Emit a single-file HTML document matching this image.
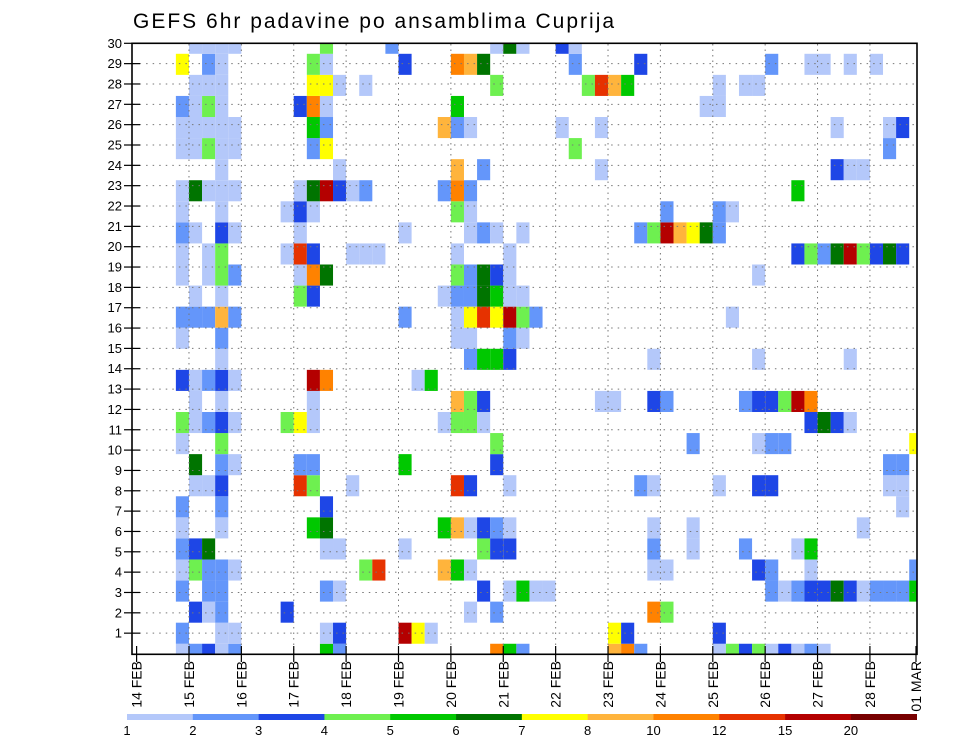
<!DOCTYPE html>
<html><head><meta charset="utf-8"><style>
html,body{margin:0;padding:0;background:#fff;}
svg{display:block;font-family:"Liberation Sans",sans-serif;}
</style></head><body>
<svg id="chart" width="960" height="742" viewBox="0 0 960 742" xmlns="http://www.w3.org/2000/svg">
<defs><clipPath id="plotclip"><rect x="132" y="43.3" width="785" height="611"/></clipPath></defs>
<text x="133" y="28" font-size="21" fill="#000" letter-spacing="2">GEFS 6hr padavine po ansamblima Cuprija</text>
<g id="cells" clip-path="url(#plotclip)"></g>
<g id="grid"></g>
<rect x="132" y="43.3" width="785" height="611" fill="none" stroke="#000" stroke-width="1.6"/>
<g id="yaxis"></g>
<g id="xaxis"></g>
<g id="legend"></g>
</svg>
<script>
const dayLabels = ["14 FEB","15 FEB","16 FEB","17 FEB","18 FEB","19 FEB","20 FEB","21 FEB","22 FEB","23 FEB","24 FEB","25 FEB","26 FEB","27 FEB","28 FEB","01 MAR"];
const memberLabels = [1,2,3,4,5,6,7,8,9,10,11,12,13,14,15,16,17,18,19,20,21,22,23,24,25,26,27,28,29,30];
const levelBounds = [1,2,3,4,5,6,7,8,10,12,15,20];
const levelColors = ["#b4c8fa","#6496fa","#1e46e6","#6ef050","#00c800","#007400","#ffff00","#ffb43c","#ff8200","#e63200","#b40000","#780000"];
// precipitation values per ensemble band (index 0 = bottom), pairs [6h step index, mm]
const precip = [
 [[3,1.5],[4,2.5],[5,3.5],[6,1.5],[7,2.5],[14,5.5],[15,2.5],[27,11],[28,5.5],[29,2.5],[36,9],[37,11],[38,2.5],[44,1.5],[45,4.5],[46,3.5],[47,4.5],[48,1.5],[49,3.5],[50,1.5],[51,2.5],[52,1.5]],
 [[3,2.5],[6,1.5],[7,1.5],[14,1.5],[15,3.5],[20,17.5],[21,7.5],[22,1.5],[36,7.5],[37,3.5],[44,3.5]],
 [[4,3.5],[5,1.5],[6,2.5],[11,3.5],[25,1.5],[27,2.5],[39,11],[40,4.5]],
 [[3,2.5],[5,2.5],[6,2.5],[14,2.5],[15,1.5],[26,3.5],[28,1.5],[29,5.5],[30,1.5],[31,1.5],[48,2.5],[49,1.5],[50,2.5],[51,3.5],[52,3.5],[53,6.5],[54,3.5],[55,1.5],[56,2.5],[57,2.5],[58,2.5],[59,5.5]],
 [[3,1.5],[4,4.5],[5,2.5],[6,2.5],[7,1.5],[17,4.5],[18,13.5],[23,9],[24,5.5],[25,1.5],[39,1.5],[40,1.5],[47,3.5],[48,2.5],[51,1.5],[59,2.5]],
 [[3,2.5],[4,3.5],[5,6.5],[14,1.5],[15,1.5],[20,1.5],[26,4.5],[27,3.5],[28,3.5],[39,2.5],[42,1.5],[46,2.5],[50,1.5],[51,5.5]],
 [[3,1.5],[6,1.5],[13,5.5],[14,6.5],[23,5.5],[24,9],[25,1.5],[26,3.5],[27,2.5],[28,1.5],[39,1.5],[42,1.5],[55,1.5]],
 [[3,2.5],[6,2.5],[14,3.5],[58,1.5]],
 [[4,1.5],[5,1.5],[6,3.5],[12,13.5],[13,4.5],[16,1.5],[24,13.5],[25,3.5],[28,1.5],[38,2.5],[39,1.5],[44,1.5],[47,3.5],[48,3.5],[57,1.5],[58,1.5]],
 [[4,6.5],[6,2.5],[7,1.5],[12,2.5],[13,2.5],[20,5.5],[27,3.5],[57,2.5],[58,2.5]],
 [[3,1.5],[6,4.5],[27,4.5],[42,2.5],[47,1.5],[48,2.5],[49,2.5],[59,7.5]],
 [[3,4.5],[4,1.5],[5,2.5],[6,3.5],[7,1.5],[11,4.5],[12,7.5],[13,1.5],[23,1.5],[24,4.5],[25,4.5],[26,1.5],[51,3.5],[52,6.5],[53,3.5],[54,1.5]],
 [[4,1.5],[6,1.5],[13,1.5],[24,9],[25,4.5],[26,3.5],[35,1.5],[36,1.5],[39,3.5],[40,2.5],[46,2.5],[47,3.5],[48,3.5],[49,4.5],[50,17.5],[51,11]],
 [[3,3.5],[4,1.5],[5,2.5],[6,3.5],[7,1.5],[13,17.5],[14,11],[21,1.5],[22,5.5]],
 [[6,1.5],[25,2.5],[26,5.5],[27,5.5],[28,3.5],[39,1.5],[47,1.5],[54,1.5]],
 [[3,1.5],[6,2.5],[24,1.5],[25,1.5],[28,2.5],[29,1.5]],
 [[3,2.5],[4,2.5],[5,2.5],[6,9],[7,2.5],[20,2.5],[24,1.5],[25,7.5],[26,13.5],[27,7.5],[28,17.5],[29,4.5],[30,2.5],[45,1.5]],
 [[4,1.5],[6,1.5],[12,4.5],[13,3.5],[23,1.5],[24,2.5],[25,2.5],[26,6.5],[27,5.5],[28,1.5],[29,1.5]],
 [[3,1.5],[5,1.5],[6,4.5],[7,2.5],[12,1.5],[13,11],[14,6.5],[24,4.5],[25,2.5],[26,6.5],[27,3.5],[28,1.5],[47,1.5]],
 [[3,1.5],[5,1.5],[6,4.5],[11,1.5],[12,13.5],[13,3.5],[16,1.5],[17,1.5],[18,1.5],[24,1.5],[28,1.5],[50,3.5],[51,4.5],[52,2.5],[53,6.5],[54,17.5],[55,4.5],[56,3.5],[57,6.5],[58,3.5]],
 [[3,2.5],[4,1.5],[6,3.5],[7,1.5],[12,1.5],[20,1.5],[25,1.5],[26,2.5],[27,1.5],[29,1.5],[38,2.5],[39,4.5],[40,17.5],[41,9],[42,7.5],[43,6.5],[44,2.5]],
 [[3,1.5],[6,1.5],[11,1.5],[12,3.5],[13,1.5],[24,4.5],[25,1.5],[40,2.5],[44,2.5],[45,1.5]],
 [[3,1.5],[4,6.5],[5,1.5],[6,1.5],[7,1.5],[12,1.5],[13,6.5],[14,17.5],[15,3.5],[16,1.5],[17,2.5],[23,2.5],[24,11],[25,2.5],[50,5.5]],
 [[6,1.5],[15,1.5],[24,9],[26,2.5],[35,1.5],[53,3.5],[54,1.5],[55,1.5]],
 [[3,1.5],[4,1.5],[5,4.5],[6,1.5],[7,1.5],[13,2.5],[14,7.5],[33,4.5],[57,2.5]],
 [[3,1.5],[4,1.5],[5,1.5],[6,1.5],[7,1.5],[13,5.5],[14,2.5],[23,9],[24,2.5],[25,1.5],[32,1.5],[35,1.5],[53,1.5],[57,1.5],[58,3.5]],
 [[3,2.5],[4,1.5],[5,4.5],[6,1.5],[12,3.5],[13,11],[14,1.5],[24,5.5],[43,1.5],[44,1.5]],
 [[4,1.5],[5,1.5],[6,1.5],[13,7.5],[14,7.5],[15,1.5],[17,1.5],[27,4.5],[34,4.5],[35,13.5],[36,9],[37,5.5],[44,1.5],[46,1.5],[47,1.5]],
 [[3,7.5],[5,2.5],[6,1.5],[13,4.5],[14,1.5],[20,3.5],[24,11],[25,9],[26,6.5],[33,2.5],[38,3.5],[48,2.5],[51,1.5],[52,1.5],[54,1.5],[56,1.5]],
 [[4,1.5],[5,1.5],[6,1.5],[7,1.5],[14,4.5],[19,2.5],[27,1.5],[28,6.5],[29,1.5],[32,3.5],[33,1.5]]
];

const NS = "http://www.w3.org/2000/svg";
const X0 = 136.6, DAY = 52.38, STEP = DAY/4;
const xDay = d => X0 + d*DAY;
const xStep = i => X0 + i*STEP;
const BAND_H = 21.07, BAND_BASE = 654.3;
const yBand = k => BAND_BASE - k*BAND_H;
const yLabel = r => 653.5 - r*20.34;
function colorFor(v){let c=null;for(let j=0;j<levelBounds.length;j++){if(v>=levelBounds[j])c=levelColors[j];}return c;}
function mk(tag, attrs, parent){const e=document.createElementNS(NS,tag);for(const k in attrs)e.setAttribute(k,attrs[k]);parent.appendChild(e);return e;}

const cells = document.getElementById('cells');
precip.forEach((band,k)=>{
  band.forEach(([i,v])=>{
    const col = colorFor(v); if(!col) return;
    const r = mk('rect',{x:xStep(i).toFixed(2),y:(yBand(k)-BAND_H/2).toFixed(2),width:STEP.toFixed(2),height:BAND_H.toFixed(2),fill:col},cells);
    
    
  });
});

const grid = document.getElementById('grid');
memberLabels.forEach(r=>{
  if(r>=30) return;
  const l = mk('line',{x1:133,x2:916,y1:yLabel(r),y2:yLabel(r),stroke:"#777","stroke-width":1,"stroke-dasharray":"1.5 5.05"},grid);
  
  
});
dayLabels.forEach((d,n)=>{
  if(n===0||n===15) return;
  const l = mk('line',{x1:xDay(n),x2:xDay(n),y1:44,y2:653,stroke:"#777","stroke-width":1,"stroke-dasharray":"1.5 4"},grid);
  
  
});

const yaxis = document.getElementById('yaxis');
memberLabels.forEach(r=>{
  const y = yLabel(r);
  const t = mk('line',{x1:124,x2:140,y1:y,y2:y,stroke:"#000","stroke-width":1.2},yaxis);
  
  
  const tx = mk('text',{x:122,y:y+4.5,"font-size":13,"text-anchor":"end",fill:"#000"},yaxis);
  tx.textContent = r;
  
  
});

const xaxis = document.getElementById('xaxis');
dayLabels.forEach((d,n)=>{
  const x = Math.min(xDay(n), 916);
  const t = mk('line',{x1:x,x2:x,y1:646,y2:662,stroke:"#000","stroke-width":1.2},xaxis);
  
  
  const tx = mk('text',{x:0,y:0,"font-size":14,"text-anchor":"end",fill:"#000",transform:"translate("+(x+5)+",661) rotate(-90)"},xaxis);
  tx.textContent = d;
  
  
});

const legend = document.getElementById('legend');
const LX0 = 127, LX1 = 916.7, segW = (LX1-LX0)/levelColors.length;
levelColors.forEach((c,j)=>{
  const r = mk('rect',{x:LX0+j*segW,y:714,width:segW+0.3,height:6,fill:c},legend);
  
  
  const tx = mk('text',{x:LX0+j*segW,y:735,"font-size":13,"text-anchor":"middle",fill:"#000"},legend);
  tx.textContent = levelBounds[j];
  
  
});
</script>
</body></html>
